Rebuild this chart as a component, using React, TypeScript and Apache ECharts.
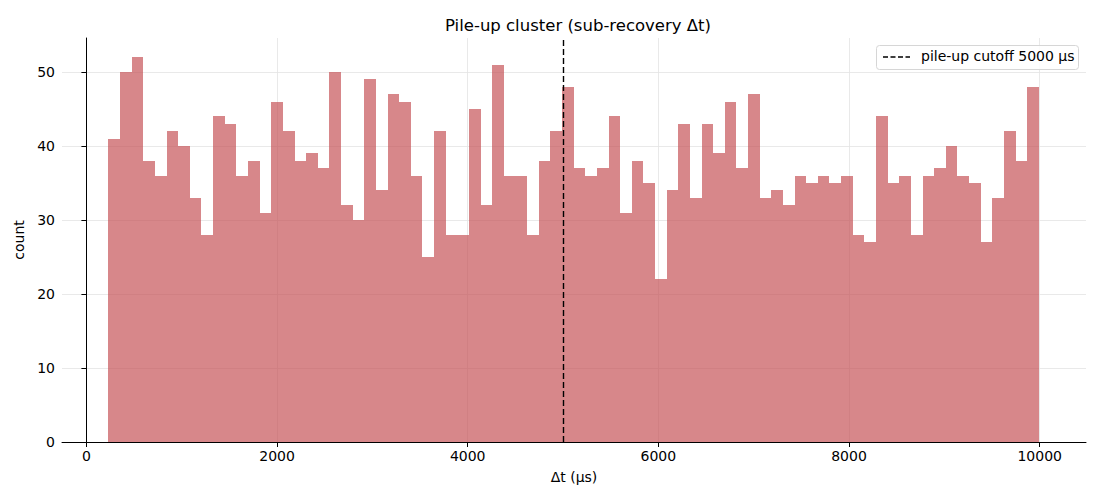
import React, { useEffect, useRef } from "react";
import * as echarts from "echarts";

// ---- data ----
const binStart = 231; // μs, left edge of first bin
const binWidth = 122; // μs
const counts = [
  41, 50, 52, 38, 36, 42, 40, 33, 28, 44,
  43, 36, 38, 31, 46, 42, 38, 39, 37, 50,
  32, 30, 49, 34, 47, 46, 36, 25, 42, 28,
  28, 45, 32, 51, 36, 36, 28, 38, 42, 48,
  37, 36, 37, 44, 31, 38, 35, 22, 34, 43,
  33, 43, 39, 46, 37, 47, 33, 34, 32, 36,
  35, 36, 35, 36, 28, 27, 44, 35, 36, 28,
  36, 37, 40, 36, 35, 27, 33, 42, 38, 48,
];
const cutoff = 5000;
const xTicks = [0, 2000, 4000, 6000, 8000, 10000];
const yTicks = [0, 10, 20, 30, 40, 50];
const xRange = [-256, 10486];
const yMax = 54.6;

const title = "Pile-up cluster (sub-recovery Δt)";
const xName = "Δt (μs)";
const yName = "count";
const legendLabel = `pile-up cutoff ${cutoff} μs`;

const FONT = "DejaVu Sans";
const BAR = "rgba(196, 78, 82, 0.68)";

export default function App() {
  const ref = useRef<HTMLDivElement>(null);

  useEffect(() => {
    document.body.style.margin = "0";
    const chart = echarts.init(ref.current!, null, { renderer: "svg" });
    const binData = counts.map((c, i) => [
      binStart + i * binWidth,
      binStart + (i + 1) * binWidth,
      c,
    ]);
    const plain = (v: number) => String(v);
    const option: any = {
      animation: false,
      backgroundColor: "#ffffff",
      textStyle: { fontFamily: FONT },
      title: {
        text: title,
        left: 573,
        textAlign: "center",
        top: 12,
        textStyle: { fontFamily: FONT, fontSize: 16.5, fontWeight: "normal", color: "#000" },
      },
      grid: { left: 62, right: 14, top: 38, bottom: 58, containLabel: false },
      xAxis: {
        type: "value",
        min: xRange[0],
        max: xRange[1],
        name: xName,
        nameLocation: "middle",
        nameGap: 28,
        nameTextStyle: { fontFamily: FONT, fontSize: 14, color: "#000" },
        axisLine: { show: true, onZero: false, lineStyle: { color: "#000", width: 1 } },
        axisTick: { show: true, length: 5, lineStyle: { color: "#000" }, customValues: xTicks },
        axisLabel: { fontFamily: FONT, fontSize: 14, color: "#000", margin: 7, customValues: xTicks, formatter: plain },
        splitLine: { show: true, lineStyle: { color: "#e3e3e3", width: 0.8 } },
      },
      yAxis: {
        type: "value",
        min: 0,
        max: yMax,
        name: yName,
        nameLocation: "middle",
        nameGap: 31,
        nameTextStyle: { fontFamily: FONT, fontSize: 14, color: "#000" },
        axisLine: { show: true, lineStyle: { color: "#000", width: 1 } },
        axisTick: { show: true, length: 5, lineStyle: { color: "#000" }, customValues: yTicks },
        axisLabel: { fontFamily: FONT, fontSize: 14, color: "#000", margin: 7, customValues: yTicks, formatter: plain },
        splitLine: { show: true, lineStyle: { color: "#e3e3e3", width: 0.8 } },
      },
      series: [
        {
          type: "custom",
          data: binData,
          encode: { x: [0, 1], y: 2 },
          renderItem: (params: any, api: any) => {
            const p0 = api.coord([api.value(0), api.value(2)]);
            const p1 = api.coord([api.value(1), 0]);
            const xl = Math.round(p0[0]);
            const xr = Math.round(p1[0]);
            const yt = Math.round(p0[1]);
            const yb = Math.round(p1[1]);
            return {
              type: "rect",
              shape: { x: xl, y: yt, width: xr - xl, height: yb - yt },
              style: { fill: BAR },
            };
          },
          markLine: {
            silent: true,
            symbol: "none",
            label: { show: false },
            lineStyle: { color: "#000", type: [6, 3], width: 1.4 },
            data: [{ xAxis: cutoff }],
          },
        },
      ],
      graphic: [
        {
          type: "rect",
          left: 876,
          top: 45,
          shape: { width: 202, height: 24, r: 3 },
          style: { fill: "rgba(255,255,255,0.85)", stroke: "#d6d6d6", lineWidth: 1 },
          z: 100,
        },
        {
          type: "line",
          shape: { x1: 883, y1: 57, x2: 910, y2: 57 },
          style: { stroke: "#000", lineWidth: 1.4, lineDash: [5, 2.5] },
          z: 101,
        },
        {
          type: "text",
          left: 921,
          top: 49,
          style: { text: legendLabel, font: `14px "${FONT}"`, fill: "#000" },
          z: 101,
        },
      ],
    };
    chart.setOption(option);
    return () => chart.dispose();
  }, []);

  return <div ref={ref} style={{ width: 1100, height: 500 }} />;
}
